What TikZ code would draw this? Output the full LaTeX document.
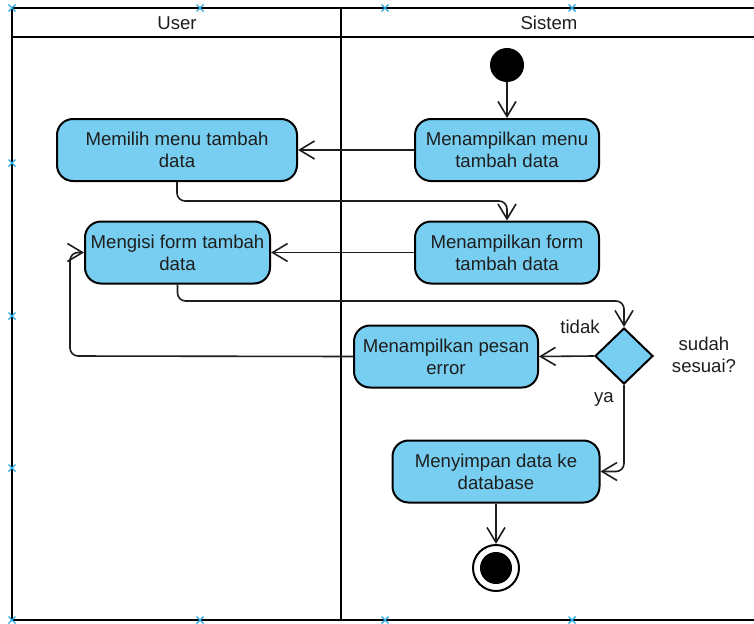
\documentclass[tikz,border=0pt]{standalone}
\usepackage{fontspec}
\setmainfont{Liberation Sans}
\usetikzlibrary{arrows.meta,shapes.geometric}
\definecolor{actfill}{RGB}{120,206,240}
\definecolor{txt}{RGB}{30,30,30}
\definecolor{marker}{RGB}{45,170,225}
\tikzset{
  lbl/.style={font=\fontsize{18.6}{22}\selectfont, text=txt, align=center, inner sep=0pt},
  action/.style={lbl, draw=black, line width=2pt, fill=actfill, rounded corners=16pt,
    minimum height=62pt},
  decision/.style={diamond, draw=black, line width=2pt, fill=actfill,
    minimum width=58pt, minimum height=56pt, inner sep=0pt},
  startnode/.style={circle, fill=black, minimum size=34pt, inner sep=0pt},
  endring/.style={circle, draw=black, line width=2pt, fill=white, minimum size=46pt, inner sep=0pt},
  enddot/.style={circle, fill=black, minimum size=32pt, inner sep=0pt},
  flow/.style={draw=txt, line width=1.6pt, rounded corners=8pt,
    -{Straight Barb[length=15pt,width=18pt,line width=1.6pt]}},
  lane/.style={draw=black, line width=2.6pt},
  mk/.style={draw=marker, line width=1.4pt}
}
\newcommand{\xmark}[2]{\draw[mk] (#1-3.5,#2-3.5) -- (#1+3.5,#2+3.5) (#1-3.5,#2+3.5) -- (#1+3.5,#2-3.5);}
\begin{document}
\begin{tikzpicture}[x=1pt,y=-1pt]
\useasboundingbox (0,0) rectangle (754,623);
\fill[white] (0,0) rectangle (754,623);

% swimlane frame
\draw[lane] (12,8) -- (754,8);
\draw[lane] (12,37) -- (754,37);
\draw[lane] (12,620) -- (754,620);
\draw[lane] (12,8) -- (12,620);
\draw[lane] (341,8) -- (341,620);
\node[lbl] (hUser) at (177,23) {User};
\node[lbl] (hSys) at (549,23) {Sistem};

% selection markers on the frame
\foreach \px in {12,200,385,572}{\xmark{\px}{8}\xmark{\px}{620}}
\foreach \py in {163,316,468}{\xmark{12}{\py}}

% activities
\node[startnode] (start) at (507,65) {};
\node[action, minimum width=240pt] (n1) at (177,150) {Memilih menu tambah\\data};
\node[action, minimum width=184pt] (n2) at (507,150) {Menampilkan menu\\tambah data};
\node[action, minimum width=185pt] (n3) at (177.5,252.5) {Mengisi form tambah\\data};
\node[action, minimum width=184pt] (n4) at (507,252.5) {Menampilkan form\\tambah data};
\node[action, minimum width=184pt] (err) at (446,356.5) {Menampilkan pesan\\error};
\node[decision] (dec) at (624,356) {};
\node[action, minimum width=207pt] (save) at (496,471.5) {Menyimpan data ke\\database};
\node[endring] (end) at (496,568) {};
\node[enddot] (endin) at (496,568) {};

% labels
\node[lbl] (tidak) at (580,327) {tidak};
\node[lbl] (ya) at (604,399) {ya};
\node[lbl] (cond) at (704,355) {sudah\\sesuai?};

% helper points for routed connectors
\coordinate (j1) at (507,201);
\coordinate (j2) at (624,301);
\coordinate (j3) at (70,356);

% flows
\draw[flow] (start) -- (n2.north);
\draw[flow] (n2.west) -- (n1.east);
\draw[flow] (n1.south) |- (j1) -- (n4.north);
\draw[flow] (n4.west) -- (n3.east);
\draw[flow] (n3.south) |- (j2) -- (dec.north);
\draw[flow] (dec.west) -- (err.east);
\draw[flow] (err.west) -- (j3) |- (n3.west);
\draw[flow] (dec.south) |- (save.east);
\draw[flow] (save.south) -- (end.north);
\end{tikzpicture}
\end{document}
